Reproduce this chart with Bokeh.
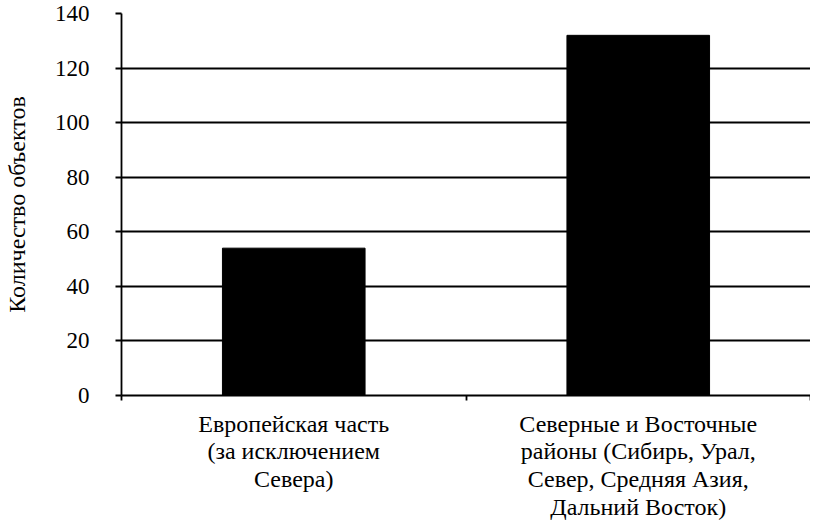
from bokeh.plotting import figure
from bokeh.models import Range1d, FixedTicker, LinearAxis
from bokeh.embed import file_html
from bokeh.resources import INLINE

categories = ["Европейская часть\n(за исключением\nСевера)",
              "Северные и Восточные\nрайоны (Сибирь, Урал,\nСевер, Средняя Азия,\nДальний Восток)"]
positions = [0.5, 1.5]
values = [54, 132]
y_ticks = [0, 20, 40, 60, 80, 100, 120, 140]
boundaries = [0, 1, 2]

FONT = "Liberation Serif"

p = figure(width=810, height=522, output_backend="svg", toolbar_location=None,
           x_range=Range1d(0, 2), y_range=Range1d(0, 140),
           x_axis_type=None, min_border_top=13, min_border_right=0,
           min_border_left=121, min_border_bottom=0)
p.outline_line_color = None
p.background_fill_color = "white"
p.border_fill_color = "white"

p.vbar(x=positions, top=values, width=0.414, color="black")

# y axis
ya = p.yaxis[0]
ya.ticker = FixedTicker(ticks=y_ticks)
ya.axis_line_color = "black"
ya.axis_line_width = 1.8
ya.major_tick_line_color = "black"
ya.major_tick_line_width = 1.8
ya.major_tick_in = 0
ya.major_tick_out = 6
ya.minor_tick_line_color = None
ya.major_label_standoff = 26
ya.major_label_text_font = FONT
ya.major_label_text_font_size = "23px"
ya.major_label_text_font_style = "normal"
ya.major_label_text_color = "black"
ya.axis_label = "Количество объектов"
ya.axis_label_text_font = FONT
ya.axis_label_text_font_size = "24px"
ya.axis_label_text_font_style = "normal"
ya.axis_label_text_color = "black"
ya.axis_label_standoff = 22

p.ygrid.ticker = FixedTicker(ticks=y_ticks)
p.ygrid.grid_line_color = "black"
p.ygrid.grid_line_width = 1.8
p.xgrid.grid_line_color = None

# x axis with boundary ticks
xa1 = LinearAxis(ticker=FixedTicker(ticks=boundaries))
xa1.axis_line_color = "black"
xa1.axis_line_width = 1.8
xa1.major_tick_line_color = "black"
xa1.major_tick_line_width = 1.8
xa1.major_tick_in = 0
xa1.major_tick_out = 5
xa1.minor_tick_line_color = None
xa1.major_label_overrides = {b: "" for b in boundaries}
xa1.major_label_text_font_size = "0px"
xa1.major_label_standoff = 0
p.add_layout(xa1, "below")

# x axis with category labels
xa2 = LinearAxis(ticker=FixedTicker(ticks=positions))
xa2.axis_line_color = None
xa2.major_tick_line_color = None
xa2.minor_tick_line_color = None
xa2.major_label_overrides = {pos: lab for pos, lab in zip(positions, categories)}
xa2.major_label_text_font = FONT
xa2.major_label_text_font_size = "24px"
xa2.major_label_text_font_style = "normal"
xa2.major_label_text_color = "black"
xa2.major_label_text_line_height = 1.07
xa2.major_label_standoff = 4
p.add_layout(xa2, "below")

open("out.html", "w").write(file_html(p, INLINE))
